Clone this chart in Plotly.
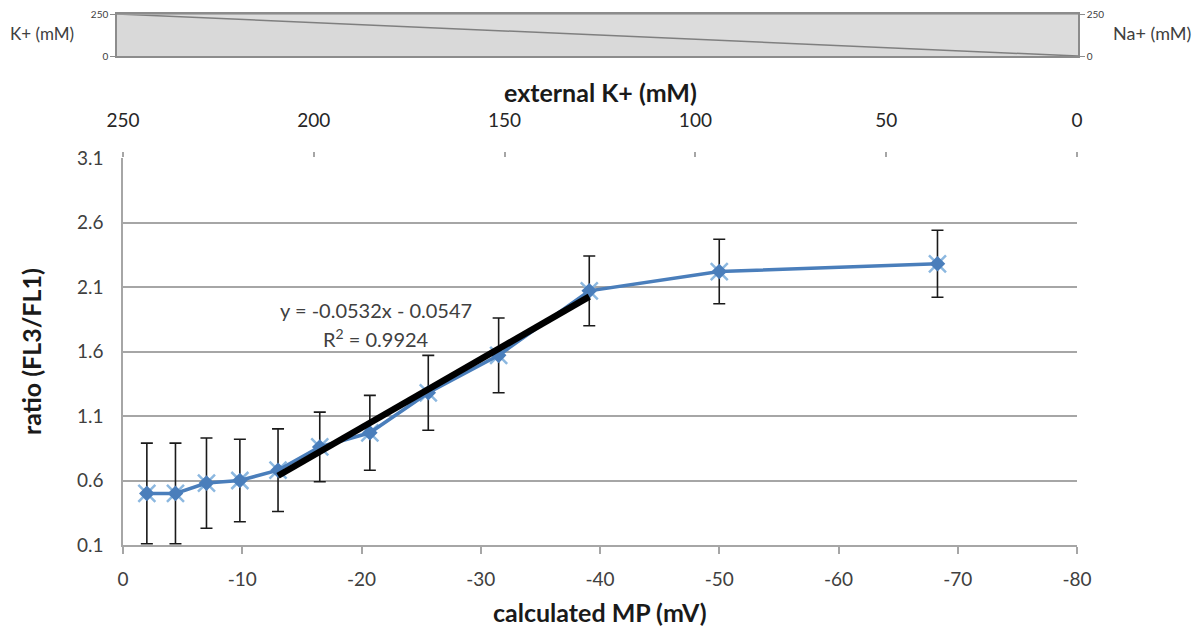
import plotly.graph_objects as go

# ---- data ----
mp_mv = [-2.0, -4.4, -7.0, -9.8, -13.0, -16.5, -20.7, -25.6, -31.5, -39.1, -50.0, -68.3]
ratio = [0.50, 0.50, 0.58, 0.60, 0.68, 0.86, 0.97, 1.28, 1.57, 2.07, 2.22, 2.28]
ratio_err = [0.39, 0.39, 0.35, 0.32, 0.32, 0.27, 0.29, 0.29, 0.29, 0.27, 0.25, 0.26]

trend_slope = -0.0532
trend_intercept = -0.0547
trend_r2 = 0.9924
trend_first, trend_last = 4, 9  # indices of points used in the fit

strip_k_ext = [250, 0]
strip_k = [250, 0]
strip_na = [0, 250]

x_ticks = [0, -10, -20, -30, -40, -50, -60, -70, -80]
y_ticks = [0.1, 0.6, 1.1, 1.6, 2.1, 2.6, 3.1]
k_ticks = [250, 200, 150, 100, 50, 0]

FONT = "Lato, 'Open Sans', sans-serif"
BLUE = "#4a7ebb"
LIGHT = "#8cb8e0"
GRID = "#a6a6a6"
TXT = "#404040"

W, H = 1200, 637
OFF = 8  # page body margin
def px(x):
    return (x - OFF) / W
def py(y):
    return 1 - (y - OFF) / H

fig = go.Figure()

# strip (stacked areas)
fig.add_trace(go.Scatter(x=strip_k_ext, y=strip_k, xaxis="x3", yaxis="y3", mode="lines",
                         line=dict(color="#7f7f7f", width=1.5), fill="tozeroy",
                         fillcolor="#d9d9d9", showlegend=False, hoverinfo="skip"))
fig.add_trace(go.Scatter(x=strip_k_ext, y=[a + b for a, b in zip(strip_k, strip_na)],
                         xaxis="x3", yaxis="y3", mode="lines",
                         line=dict(color="#a0a0a0", width=1.5), fill="tonexty",
                         fillcolor="#dcdcdc", showlegend=False, hoverinfo="skip"))
fig.add_trace(go.Scatter(x=strip_k_ext, y=strip_na, xaxis="x3", yaxis="y4", mode="lines",
                         line=dict(width=0), opacity=0, showlegend=False, hoverinfo="skip"))

# invisible trace for top axis
fig.add_trace(go.Scatter(x=k_ticks, y=[None] * len(k_ticks), xaxis="x2", yaxis="y",
                         mode="markers", showlegend=False, hoverinfo="skip"))

# star markers (behind)
fig.add_trace(go.Scatter(x=mp_mv, y=ratio, mode="markers",
                         marker=dict(symbol="x-thin-open", size=17, color=LIGHT,
                                     line=dict(color=LIGHT, width=2.5)),
                         showlegend=False, hoverinfo="skip"))
# main series
fig.add_trace(go.Scatter(x=mp_mv, y=ratio, mode="lines+markers",
                         line=dict(color=BLUE, width=3.5),
                         marker=dict(symbol="diamond", size=12, color=BLUE),
                         error_y=dict(type="data", array=ratio_err, visible=True,
                                      color="#1a1a1a", thickness=1.6, width=6),
                         showlegend=False))
# trendline
tx = [mp_mv[trend_first], mp_mv[trend_last]]
ty = [trend_slope * v + trend_intercept for v in tx]
fig.add_trace(go.Scatter(x=tx, y=ty, mode="lines", line=dict(color="black", width=6.5),
                         showlegend=False, hoverinfo="skip"))

main_x = [px(123), px(1077)]
main_y = [py(545), py(158)]

fig.update_layout(
    width=W, height=H, margin=dict(l=0, r=0, t=0, b=0, autoexpand=False),
    paper_bgcolor="white", plot_bgcolor="rgba(0,0,0,0)",
    font=dict(family=FONT, size=16, color=TXT),
    xaxis=dict(domain=main_x, range=[0, -80], tickvals=x_ticks,
               ticktext=[str(v) for v in x_ticks], showgrid=False, automargin=False,
               zeroline=False, showline=True, linecolor=GRID, linewidth=1.5,
               ticks="outside", ticklen=7, tickcolor=GRID, tickwidth=1.5,
               ticklabelstandoff=9,
               tickfont=dict(size=19, color=TXT), anchor="y"),
    yaxis=dict(domain=main_y, range=[0.1, 3.1], tickvals=y_ticks,
               ticktext=[f"{v:.1f}" for v in y_ticks], automargin=False,
               showgrid=True, gridcolor=GRID, gridwidth=1.5, zeroline=False,
               showline=True, linecolor=GRID, linewidth=1.5, ticks="",
               ticklabelstandoff=14,
               tickfont=dict(size=19, color=TXT), anchor="x"),
    xaxis2=dict(overlaying="x", side="top", range=[250, 0], tickvals=k_ticks,
                showgrid=False, zeroline=False, showline=False, ticks="outside",
                ticklen=5, tickcolor=GRID, tickwidth=1.5, anchor="y", automargin=False,
                ticklabelstandoff=17,
                tickfont=dict(size=19, color="#262626")),
    xaxis3=dict(domain=[px(117), px(1078)], range=[250, 0], anchor="y3", automargin=False,
                showticklabels=False, showgrid=False, zeroline=False, showline=True,
                mirror=True, linecolor="#8c8c8c", linewidth=1.5, ticks=""),
    yaxis3=dict(domain=[py(56), py(14)], range=[0, 250], tickvals=[0, 250],
                anchor="x3", showgrid=False, zeroline=False, showline=True, automargin=False,
                linecolor="#8c8c8c", linewidth=1.5, ticks="outside", ticklen=5,
                ticklabeloverflow="allow",
                tickcolor="#8c8c8c", tickfont=dict(size=10, color="#404040")),
    yaxis4=dict(overlaying="y3", side="right", range=[0, 250], tickvals=[0, 250],
                anchor="x3", showgrid=False, zeroline=False, showline=True, automargin=False,
                linecolor="#8c8c8c", linewidth=1.5, ticks="outside", ticklen=5,
                ticklabeloverflow="allow",
                tickcolor="#8c8c8c", tickfont=dict(size=10, color="#404040")),
)

ann = [
    dict(text="<b>calculated MP (mV)</b>", x=px(600), y=py(612), font=dict(size=25, color="#1a1a1a")),
    dict(text="<b>external K+ (mM)</b>", x=px(600), y=py(92), font=dict(size=25, color="#1a1a1a")),
    dict(text="<b>ratio (FL3/FL1)</b>", x=px(31), y=py(352), textangle=-90, font=dict(size=25, color="#1a1a1a")),
    dict(text="K+ (mM)", x=0, y=py(33), xanchor="left", font=dict(size=17, color=TXT)),
    dict(text="Na+ (mM)", x=px(1152), y=py(33), font=dict(size=18, color=TXT)),
    dict(text=f"y = {trend_slope}x - {abs(trend_intercept)}", x=px(376), y=py(310),
         font=dict(size=20, color=TXT)),
    dict(text=f"R<sup>2</sup> = {trend_r2}", x=px(376), y=py(338), font=dict(size=20, color=TXT)),
]
for a in ann:
    a.setdefault("xanchor", "center")
    a.update(xref="paper", yref="paper", showarrow=False, yanchor="middle")
    fig.add_annotation(**a)

fig.write_html("out.html")
